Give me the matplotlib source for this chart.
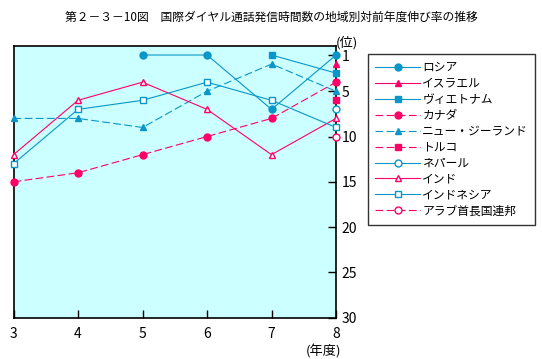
import matplotlib
matplotlib.use("Agg")
import matplotlib.pyplot as plt
from matplotlib.lines import Line2D

plt.rcParams["font.family"] = ["Noto Sans CJK JP", "DejaVu Sans"]

CYAN = "#0a96c8"
RED = "#ff0066"
BG = "#ccffff"

years = [3, 4, 5, 6, 7, 8]
russia = [None, None, 1, 1, 7, 1]
israel = [None, None, None, None, None, 2]
vietnam = [None, None, None, None, 1, 3]
canada = [15, 14, 12, 10, 8, 4]
nz = [8, 8, 9, 5, 2, 5]
turkey = [None, None, None, None, None, 6]
nepal = [None, None, None, None, None, 7]
india = [12, 6, 4, 7, 12, 8]
indonesia = [13, 7, 6, 4, 6, 9]
uae = [None, None, None, None, None, 10]

names = ["ロシア", "イスラエル", "ヴィエトナム", "カナダ", "ニュー・ジーランド",
         "トルコ", "ネパール", "インド", "インドネシア", "アラブ首長国連邦"]
series = [russia, israel, vietnam, canada, nz, turkey, nepal, india, indonesia, uae]
# colour, dashed, marker, filled
styles = [(CYAN, False, "o", True), (RED, False, "^", True), (CYAN, False, "s", True),
          (RED, True, "o", True), (CYAN, True, "^", True), (RED, True, "s", True),
          (CYAN, False, "o", False), (RED, False, "^", False), (CYAN, False, "s", False),
          (RED, True, "o", False)]

fig = plt.figure(figsize=(5.42, 3.59), dpi=100)
ax = fig.add_axes([0.025, 0.115, 0.595, 0.757])
ax.set_facecolor(BG)

handles = []
for name, vals, (c, dashed, m, filled) in zip(names, series, styles):
    xs = [x for x, v in zip(years, vals) if v is not None]
    ys = [v for v in vals if v is not None]
    ls = (0, (7, 3)) if dashed else "-"
    kw = dict(color=c, lw=0.8, ls=ls, marker=m, ms=5,
              mfc=c if filled else "white", mec=c, mew=1.0)
    ax.plot(xs, ys, clip_on=False, zorder=3, **kw)
    handles.append(Line2D([0], [0], label=name, **kw))

ax.set_xlim(3, 8)
ax.set_ylim(30, 0)
ax.set_xticks(years)
ax.yaxis.tick_right()
ax.set_yticks([1, 5, 10, 15, 20, 25, 30])
ax.tick_params(axis="both", direction="in", length=6, width=1, labelsize=10)
ax.tick_params(axis="y", pad=4)
ax.tick_params(axis="x", pad=7)
for s in ax.spines.values():
    s.set_linewidth(1.2)
ax.text(1.0, 1.013, "(位)", transform=ax.transAxes, ha="left", va="center", fontsize=9.5)
ax.text(0.96, -0.1, "(年度)", transform=ax.transAxes, ha="center", va="top", fontsize=9.5)

fig.suptitle("第２－３－10図　国際ダイヤル通話発信時間数の地域別対前年度伸び率の推移",
             x=0.5, y=0.97, fontsize=8.5)

leg = fig.legend(handles=handles, loc="upper left", bbox_to_anchor=(0.679, 0.85),
                 frameon=True, fancybox=False, edgecolor="black", fontsize=8.5,
                 handlelength=3.8, labelspacing=0.25, borderpad=0.6, handletextpad=0.2,
                 borderaxespad=0)
leg.get_frame().set_linewidth(1.0)

fig.savefig("out.png", dpi=100)
